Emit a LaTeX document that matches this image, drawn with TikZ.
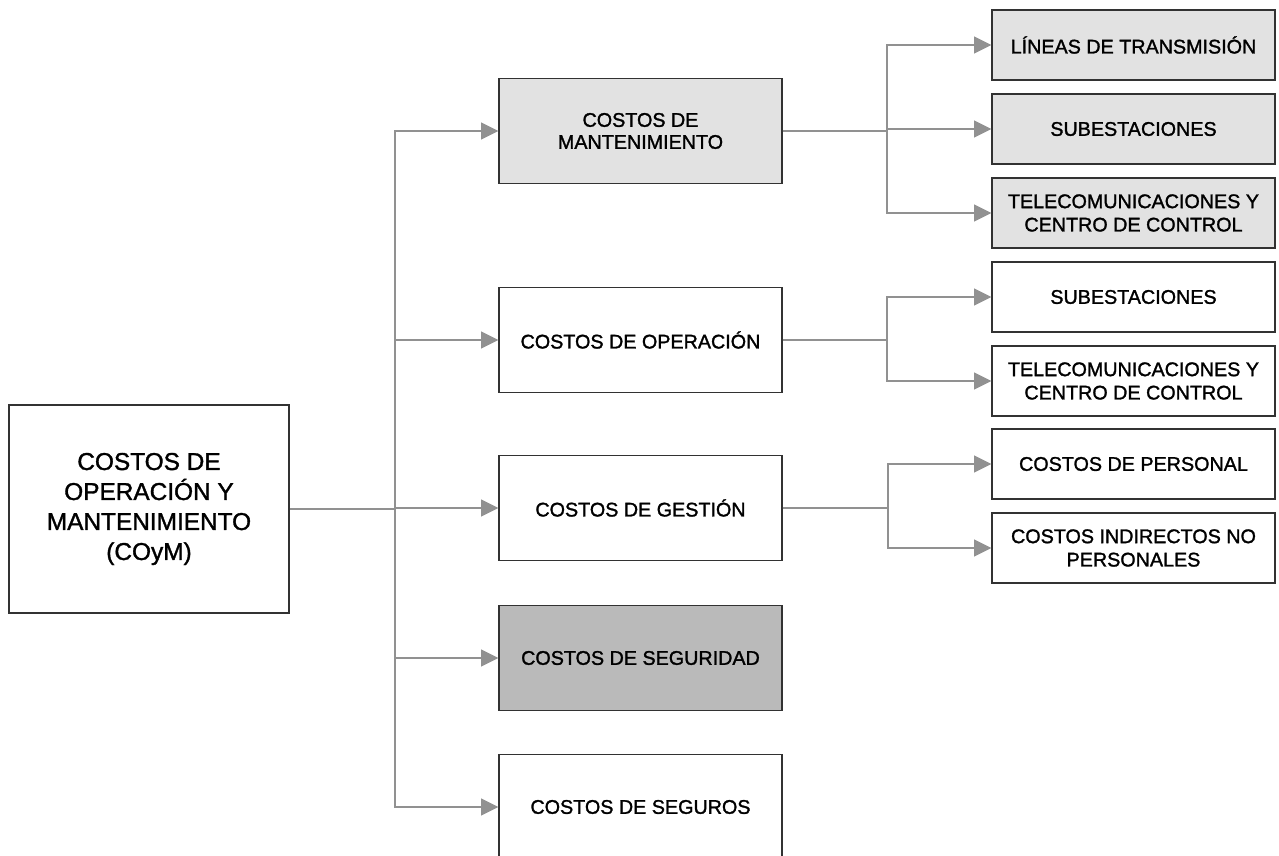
\documentclass[tikz,border=0pt]{standalone}
\usepackage{fontspec}
\setmainfont{Liberation Sans}[FakeBold=1.4]
\usetikzlibrary{arrows.meta}

\definecolor{boxline}{RGB}{50,50,50}
\definecolor{linkgray}{RGB}{145,145,145}
\definecolor{lightfill}{RGB}{226,226,226}
\definecolor{darkfill}{RGB}{186,186,186}

\tikzset{every picture/.style={line width=0.75pt}}
\tikzset{
  costbox/.style={draw=boxline, line width=1.2pt, minimum width=212pt, minimum height=79pt, inner sep=0pt, align=center, font=\fontsize{14.8}{16.5}\selectfont},
  itembox/.style={costbox, minimum height=52.5pt, font=\fontsize{14.8}{17.5}\selectfont},
  mainbox/.style={costbox, minimum width=210pt, minimum height=156pt, font=\fontsize{18.3}{22.5}\selectfont},
  link/.style={draw=linkgray, line width=1.8pt},
  arrowlink/.style={link, -{Triangle[length=13pt,width=12.5pt,fill=linkgray,color=linkgray]}}
}

\begin{document}
\begin{tikzpicture}[x=0.75pt,y=0.75pt,yscale=-1,xscale=1]
    \useasboundingbox (0,0) rectangle (1279,856);

    % Main box
    \node [mainbox] (coym) at (149,509) {COSTOS DE\\OPERACIÓN Y\\MANTENIMIENTO\\(COyM)};

    % Cost boxes
    \node [costbox, fill=lightfill] (mant) at (640.5,131) {COSTOS DE\\MANTENIMIENTO};
    \node [costbox] (oper) at (640.5,340) {COSTOS DE OPERACIÓN};
    \node [costbox] (gest) at (640.5,508) {COSTOS DE GESTIÓN};
    \node [costbox, fill=darkfill] (segd) at (640.5,658) {COSTOS DE SEGURIDAD};
    \node [costbox] (segr) at (640.5,807) {COSTOS DE SEGUROS};

    % Item boxes
    \node [itembox, fill=lightfill] (lineas) at (1133.5,45) {LÍNEAS DE TRANSMISIÓN};
    \node [itembox, fill=lightfill] (subA) at (1133.5,129) {SUBESTACIONES};
    \node [itembox, fill=lightfill] (telA) at (1133.5,213) {TELECOMUNICACIONES Y\\CENTRO DE CONTROL};
    \node [itembox] (subB) at (1133.5,297) {SUBESTACIONES};
    \node [itembox] (telB) at (1133.5,381) {TELECOMUNICACIONES Y\\CENTRO DE CONTROL};
    \node [itembox] (pers) at (1133.5,464) {COSTOS DE PERSONAL};
    \node [itembox] (indir) at (1133.5,548) {COSTOS INDIRECTOS NO\\PERSONALES};

    % Branch points
    \coordinate (trunk) at (395,509);
    \coordinate (mantsplit) at (887,131);
    \coordinate (opersplit) at (887,340);
    \coordinate (gestsplit) at (888,508);

    % Trunk links
    \draw [link] (coym.east) -- (trunk);
    \foreach \b in {mant,oper,gest,segd,segr}
      \draw [arrowlink] (trunk) |- (\b.west);

    % Mantenimiento links
    \draw [link] (mant.east) -- (mantsplit);
    \foreach \b in {lineas,subA,telA}
      \draw [arrowlink] (mantsplit) |- (\b.west);

    % Operacion links
    \draw [link] (oper.east) -- (opersplit);
    \foreach \b in {subB,telB}
      \draw [arrowlink] (opersplit) |- (\b.west);

    % Gestion links
    \draw [link] (gest.east) -- (gestsplit);
    \foreach \b in {pers,indir}
      \draw [arrowlink] (gestsplit) |- (\b.west);

\end{tikzpicture}
\end{document}
